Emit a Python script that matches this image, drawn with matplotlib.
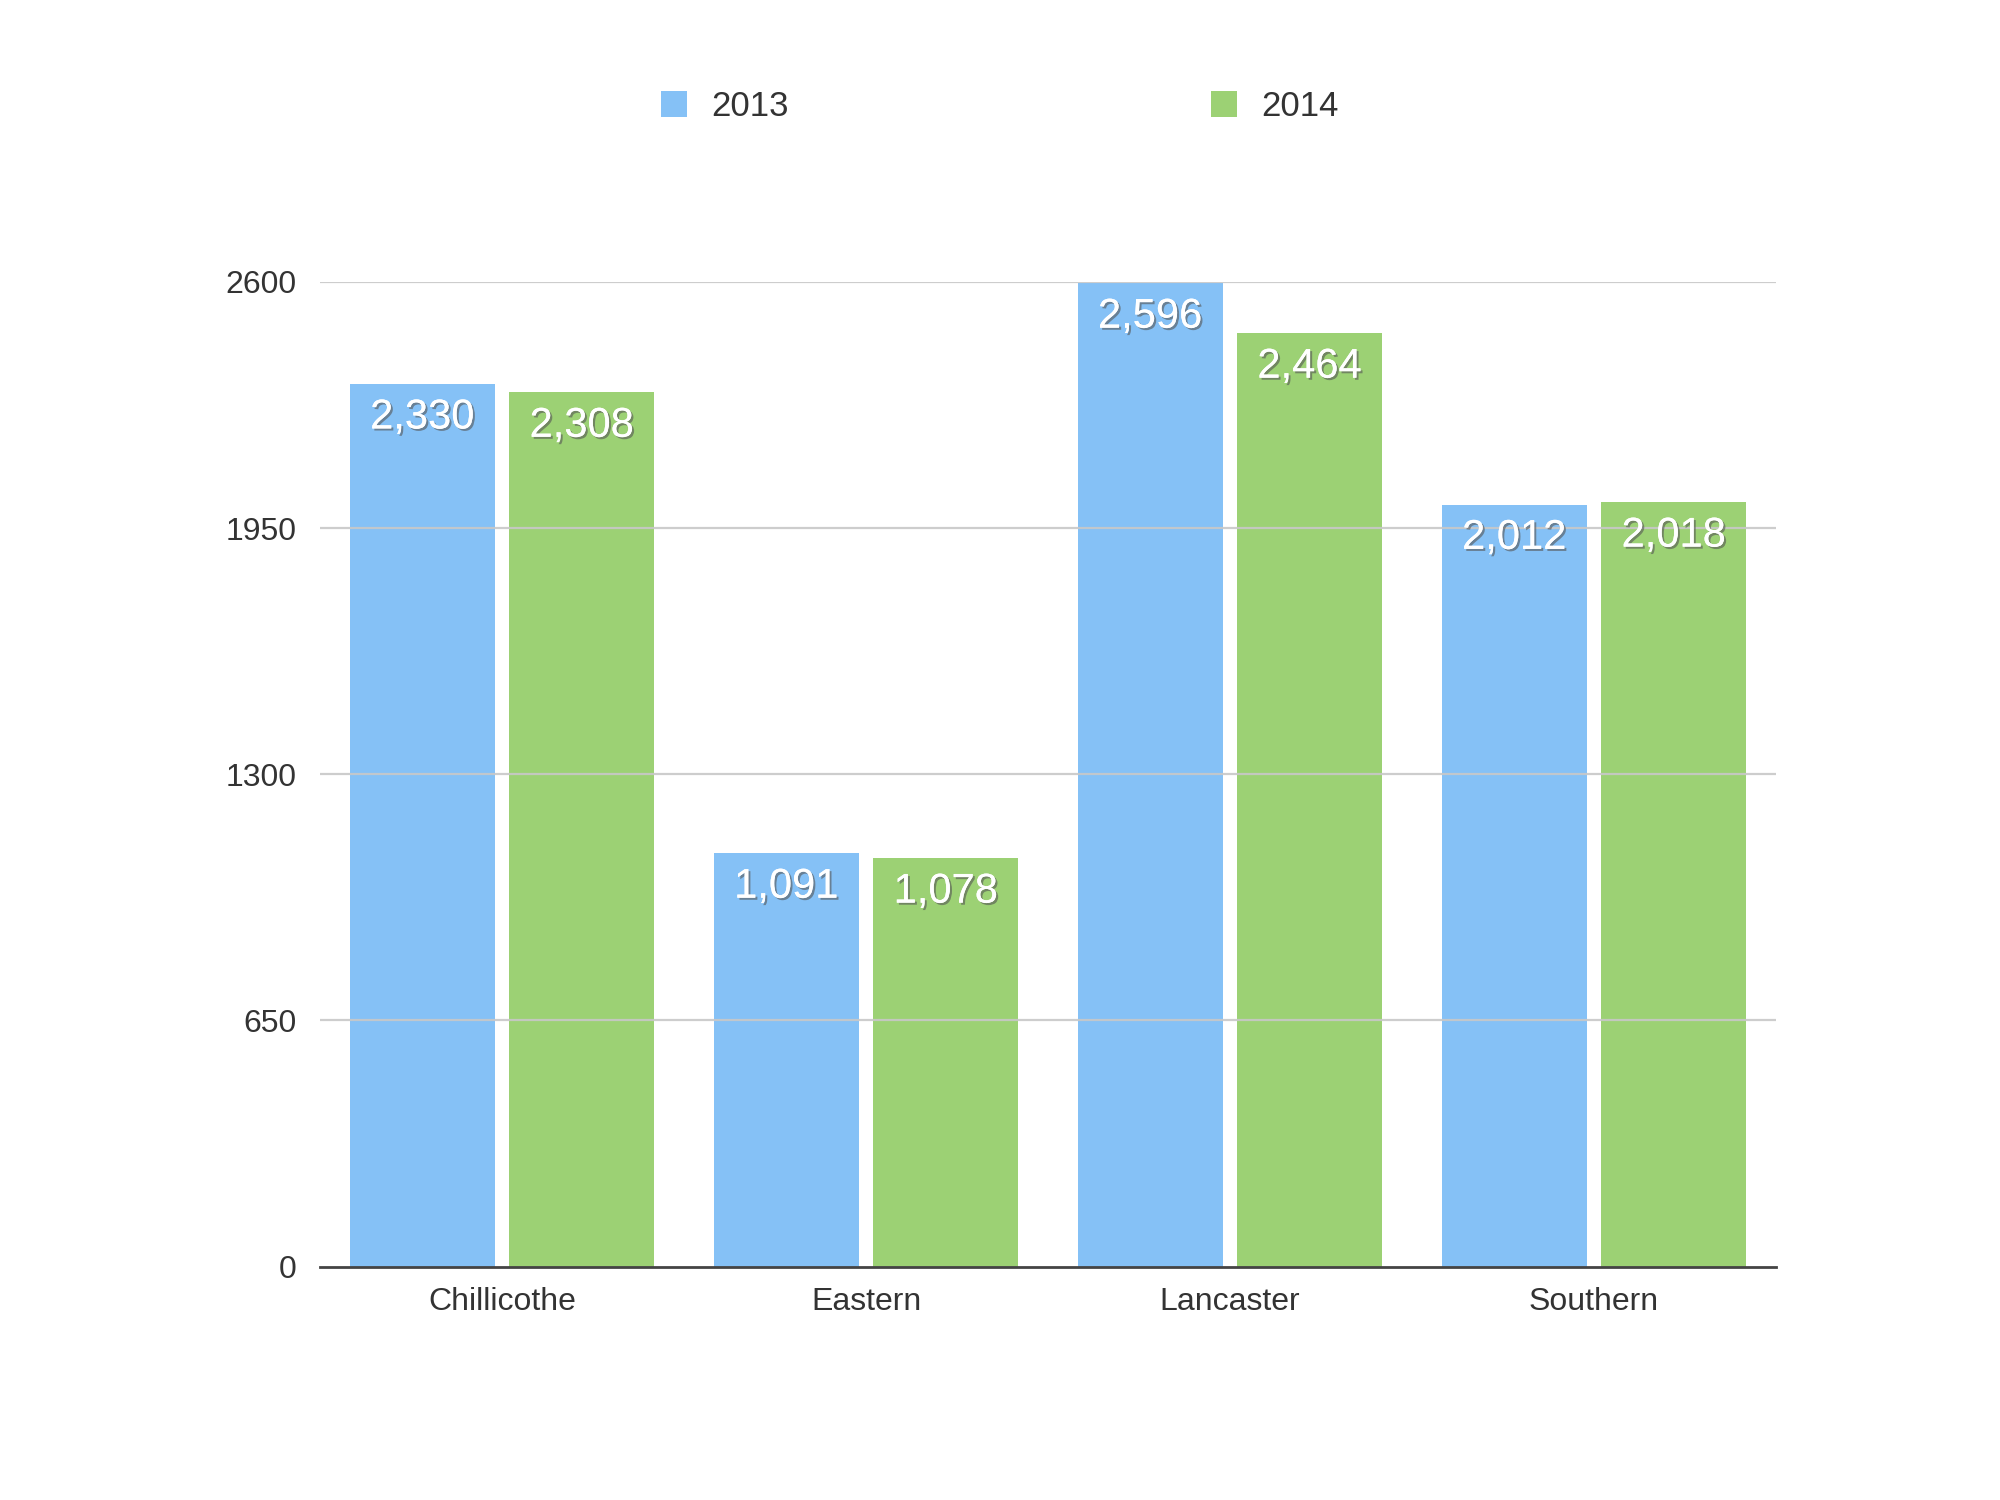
import matplotlib
matplotlib.use("Agg")
import matplotlib.pyplot as plt
import matplotlib.patheffects as pe
from matplotlib.patches import Patch
import numpy as np

categories = ["Chillicothe", "Eastern", "Lancaster", "Southern"]
series_names = ["2013", "2014"]
values_2013 = [2330, 1091, 2596, 2012]
values_2014 = [2308, 1078, 2464, 2018]
yticks = [0, 650, 1300, 1950, 2600]

plt.rcParams['font.family'] = ['Liberation Sans', 'DejaVu Sans']

blue = "#85C1F6"
green = "#9CD174"
text_col = "#333333"

fig = plt.figure(figsize=(20, 15), dpi=100)
ax = fig.add_axes([0.1600, 0.1556, 0.7280, 0.6565])

x = np.arange(len(categories))
w = 0.397
off = 0.219
b1 = ax.bar(x - off, values_2013, width=w, color=blue, zorder=1)
b2 = ax.bar(x + off, values_2014, width=w, color=green, zorder=1)

shadow = [pe.withSimplePatchShadow(offset=(1.5, -1.5), shadow_rgbFace="#555555", alpha=0.6), pe.Normal()]
for bars, vals in ((b1, values_2013), (b2, values_2014)):
    for rect, v in zip(bars, vals):
        ax.annotate(f"{v:,}", (rect.get_x() + rect.get_width() / 2, v),
                    xytext=(0, -24), textcoords="offset points",
                    ha="center", va="center", color="white", fontsize=30,
                    path_effects=shadow, zorder=3)

ax.set_xlim(-0.5, 3.5)
ax.set_ylim(0, 2600)
ax.set_yticks(yticks)
ax.set_yticklabels([str(t) for t in yticks])
ax.set_xticks(x)
ax.set_xticklabels(categories)
for t in yticks[1:]:
    ax.axhline(t, color="#c8c8c8", lw=1.6, zorder=2, alpha=0.9)
ax.axhline(0, color="#444444", lw=2.0, zorder=4, clip_on=False)

for s in ax.spines.values():
    s.set_visible(False)
ax.tick_params(axis="both", length=0, labelsize=23, colors=text_col)
ax.tick_params(axis="y", pad=17)
ax.tick_params(axis="x", pad=15)

# legend
handles = [Patch(facecolor=blue, edgecolor="none"), Patch(facecolor=green, edgecolor="none")]
leg = fig.legend(handles, series_names, loc="center", bbox_to_anchor=(0.5, 0.929),
                 ncol=2, frameon=False, fontsize=25, handlelength=0.75, handleheight=0.75,
                 handletextpad=0.7, columnspacing=12.15, labelcolor=text_col)

fig.savefig("out.png", dpi=100, facecolor="white")
